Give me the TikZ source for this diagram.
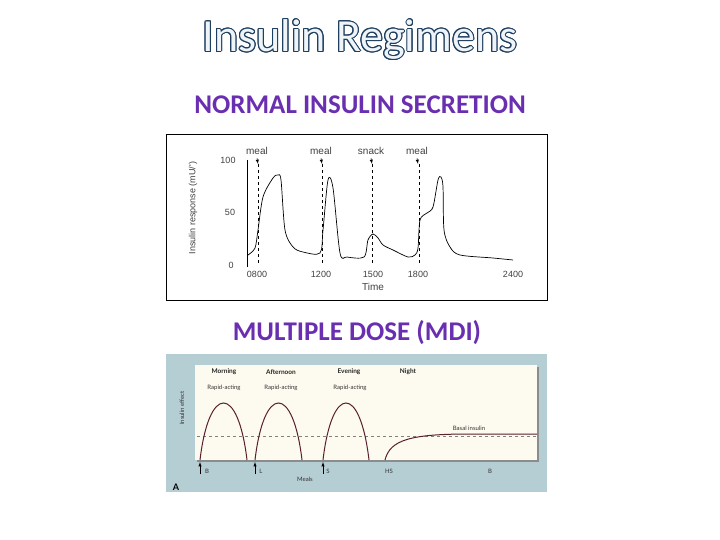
\documentclass[tikz,border=0pt]{standalone}
\usepackage{fontspec}
\setmainfont{Carlito}
\newfontfamily\lib{Liberation Sans}
\newfontfamily\lat{Lato}
\usepackage{contour}
\contourlength{1pt}
\definecolor{ttl}{HTML}{1F3F5F}
\definecolor{ttlfill}{HTML}{EEF4F8}
\definecolor{purp}{HTML}{6A2FB0}
\definecolor{teal}{HTML}{B5CED3}
\definecolor{cream}{HTML}{FDFBF0}
\definecolor{maroon}{HTML}{5A2030}
\begin{document}
\begin{tikzpicture}[x=1pt,y=-1pt,
 gl/.style={font=\lib\fontsize{9}{10}\selectfont,text=black!75},
 sl/.style={font=\lat\fontsize{6}{7}\selectfont,text=black!80},
 bl/.style={font=\lat\bfseries\fontsize{6.5}{7}\selectfont,text=black!85},
 dl/.style={dashed,line width=0.8pt},
 ar/.style={-latex,line width=0.5pt}]
\useasboundingbox (0,0) rectangle (720,540);
\node (title) at (360,40) {\fontsize{46}{50}\selectfont\contour{ttl}{\color{ttlfill}Insulin Regimens}};
\node[text=purp,font=\bfseries\fontsize{27}{30}\selectfont] (sub1) at (360,105) {NORMAL INSULIN SECRETION};
\node[text=purp,font=\bfseries\fontsize{27}{30}\selectfont] (sub2) at (357,333) {MULTIPLE DOSE (MDI)};
% chart 1
\draw[line width=0.6pt] (166,134) rectangle (547,300);
\draw[line width=0.8pt] (247,160) -- (247,267);
\node[gl] (y100) at (228,160) {100};
\node[gl] (y50) at (230,212) {50};
\node[gl] (y0) at (231,265) {0};
\node[gl,rotate=90] (ylab) at (193,208) {Insulin response (mU/')};
\foreach \x/\t/\n in {257/0800/a,321/1200/b,373/1500/c,418/1800/d,513/2400/e}
  \node[gl] (t\n) at (\x,274) {\t};
\node[gl,font=\lib\fontsize{10}{11}\selectfont] (time) at (373,287) {Time};
\foreach \x/\t/\n in {258/meal/a,322/meal/b,372/snack/c,418/meal/d}{
  \node[gl,font=\lib\fontsize{10}{11}\selectfont] (m\n) at (\x-1,151) {\t};
  \coordinate (e\n) at (\x,164);
  \draw[ar] (m\n.south) -- (e\n);
}
\draw[dl] (258,164) -- (258,265);
\draw[dl] (322,164) -- (322,265);
\draw[dashed,line width=0.5pt] (372,164) -- (372,265);
\draw[dl] (419,164) -- (419,265);
\draw[line width=0.7pt] plot[smooth,tension=0.5] coordinates {
(248,255)(255,248)(258,230)(263,197)(273,178)(278,175)(281,180)(285,230)(293,247)(303,252)(320,253)(323,230)(328,180)(333,188)(340,253)(347,257)(364,257)(368,240)(373,234)(378,238)(383,245)(393,250)(408,257)(415,255)(418,248)(420,220)(427,213)(433,207)(438,180)(441,177)(443,187)(444,230)(450,247)(460,255)(493,258)(513,260)};
% chart 2
\fill[teal] (166,354) rectangle (547,492);
\fill[black!45] (197,367) rectangle (539,462);
\fill[cream] (195,365) rectangle (537,460);
\draw[dashed,black!50,line width=0.4pt] (197,436) -- (537,436);
\draw[maroon,line width=1pt] (200,460) .. controls (209,384) and (238,384) .. (247,460);
\draw[maroon,line width=1pt] (255,460) .. controls (264,384) and (293,384) .. (302,460);
\draw[maroon,line width=1pt] (323,460) .. controls (332,384) and (360,384) .. (369,460);
\draw[maroon,line width=1pt] (385,460) .. controls (390,440) and (410,434) .. (470,434) -- (537,434);
\node[bl] (mo) at (224,372) {Morning};
\node[bl] (af) at (281,372) {Afternoon};
\node[bl] (ev) at (349,372) {Evening};
\node[bl] (ni) at (408,372) {Night};
\node[sl] (r1) at (224,388) {Rapid-acting};
\node[sl] (r2) at (281,388) {Rapid-acting};
\node[sl] (r3) at (350,388) {Rapid-acting};
\node[sl] (bas) at (469,428) {Basal insulin};
\node[sl,rotate=90] (ie) at (182,408) {Insulin effect};
\foreach \x/\n in {200/a,255/b,323/c}{
  \coordinate (s\n) at (\x,474); \coordinate (f\n) at (\x,462);
  \draw[ar] (s\n) -- (f\n);}
\node[sl] (lb1) at (207,471) {B};
\node[sl] (ll) at (261,471) {L};
\node[sl] (ls) at (328,471) {S};
\node[sl] (lhs) at (389,471) {HS};
\node[sl] (lb2) at (490,471) {B};
\node[sl] (meals) at (305,479) {Meals};
\node[font=\lat\bfseries\fontsize{9}{10}\selectfont] (A) at (176,487) {A};
\end{tikzpicture}
\end{document}
